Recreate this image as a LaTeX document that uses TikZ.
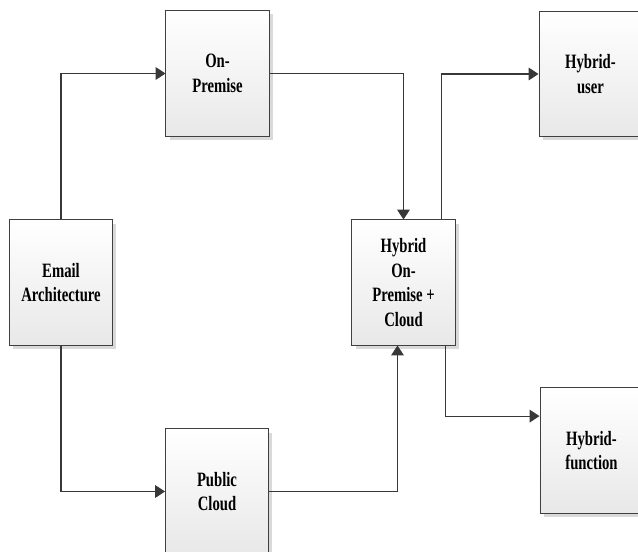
\documentclass[tikz,border=0pt]{standalone}
\usepackage{fontspec}
\setmainfont{Liberation Serif}[FakeStretch=0.72]
\usetikzlibrary{arrows.meta,shadows}

\begin{document}
\begin{tikzpicture}[x=0.025cm, y=-0.025cm, >={Triangle[length=7pt,width=9pt]},
    box/.style={draw=black!75, line width=0.7pt, top color=white, bottom color=black!9,
      minimum width=2.575cm, minimum height=3.125cm, inner sep=2pt, align=center,
      font=\bfseries\fontsize{14.5}{17.5}\selectfont,
      drop shadow={shadow xshift=2.5pt, shadow yshift=-2.5pt, fill=black!15, opacity=1}},
    conn/.style={draw=black!78, line width=0.75pt, ->}]
    \useasboundingbox (0,0) rectangle (638,552);

    % Boxes
    \node[box] (email)  at (61,282.5)    {Email\\Architecture};
    \node[box] (onprem) at (217.5,73.5)  {On-\\Premise};
    \node[box] (cloud)  at (217,491.5)   {Public\\Cloud};
    \node[box] (hybrid) at (403.5,282.5) {Hybrid\\On-\\Premise +\\Cloud};
    \node[box] (huser)  at (590.5,74)    {Hybrid-\\user};
    \node[box] (hfunc)  at (591.5,450.5) {Hybrid-\\function};

    % Connectors
    \draw[conn] (email.north) |- (onprem.west);
    \draw[conn] (email.south) |- (cloud.west);
    \draw[conn] (onprem.east) -| (hybrid.north);
    \draw[conn] (cloud.east) -| ([xshift=-0.15cm]hybrid.south);
    \draw[conn] ([xshift=0.96cm]hybrid.north) |- (huser.west);
    \draw[conn] ([xshift=1.06cm]hybrid.south) |- ([yshift=0.86cm]hfunc.west);
\end{tikzpicture}
\end{document}
